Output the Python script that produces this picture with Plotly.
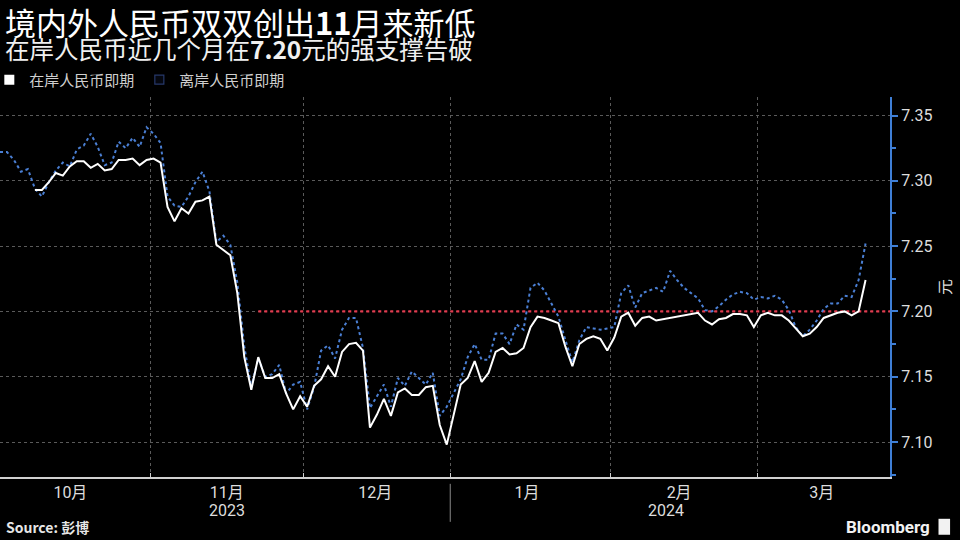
import pandas as pd
import plotly.graph_objects as go

# ---------------- data ----------------
# trading sessions shown on the chart (weekdays, New Year's Day had no quotes)
session_days = [d for d in pd.bdate_range("2023-10-02", "2024-03-22")
                if d != pd.Timestamp("2024-01-01")]
# each daily close is plotted mid-session so month gridlines fall between sessions
session_x = [d + pd.Timedelta(hours=12) for d in session_days]

onshore_cny = [
    None, None, None, None, None, 7.293, 7.293, 7.299, 7.306, 7.304,
    7.311, 7.315, 7.315, 7.310, 7.313, 7.308, 7.309, 7.316, 7.316, 7.317,
    7.312, 7.316, 7.317, 7.314, 7.280, 7.269, 7.279, 7.275, 7.284, 7.285,
    7.288, 7.251, 7.247, 7.243, 7.214, 7.165, 7.140, 7.165, 7.149, 7.149,
    7.152, 7.137, 7.125, 7.135, 7.127, 7.143, 7.148, 7.158, 7.150, 7.169,
    7.175, 7.176, 7.170, 7.111, 7.121, 7.133, 7.120, 7.138, 7.141, 7.136,
    7.136, 7.142, 7.143, 7.113, 7.098, 7.144, 7.149, 7.162, 7.146, 7.153,
    7.169, 7.172, 7.167, 7.168, 7.172, 7.188, 7.196, 7.195, 7.193, 7.191,
    7.173, 7.158, 7.175, 7.179, 7.181, 7.179, 7.170, 7.180, 7.196, 7.199,
    7.189, 7.195, 7.196, 7.193, None, None, None, None, None, 7.199,
    7.193, 7.190, 7.194, 7.195, 7.198, 7.198, 7.197, 7.188, 7.197, 7.199,
    7.197, 7.197, 7.193, 7.187, 7.181, 7.183, 7.188, 7.195, 7.197, 7.199,
    7.200, 7.197, 7.200, 7.224,
]

offshore_cnh = [
    7.322, 7.322, 7.316, 7.307, 7.309, 7.294, 7.288, 7.299, 7.308, 7.314,
    7.311, 7.324, 7.327, 7.336, 7.326, 7.312, 7.314, 7.330, 7.325, 7.333,
    7.326, 7.341, 7.336, 7.329, 7.288, 7.281, 7.280, 7.288, 7.299, 7.307,
    7.292, 7.253, 7.258, 7.251, 7.222, 7.173, 7.142, 7.164, 7.150, 7.152,
    7.159, 7.137, 7.144, 7.146, 7.125, 7.142, 7.170, 7.174, 7.164, 7.186,
    7.195, 7.195, 7.172, 7.126, 7.135, 7.144, 7.127, 7.149, 7.143, 7.154,
    7.149, 7.144, 7.153, 7.120, 7.127, 7.148, 7.165, 7.175, 7.163, 7.163,
    7.183, 7.183, 7.175, 7.190, 7.186, 7.218, 7.222, 7.216, 7.206, 7.196,
    7.178, 7.161, 7.178, 7.188, 7.187, 7.186, 7.187, 7.188, 7.214, 7.220,
    7.203, 7.214, 7.216, 7.218, 7.215, 7.231, 7.224, 7.218, 7.214, 7.210,
    7.201, 7.200, 7.204, 7.209, 7.213, 7.215, 7.214, 7.209, 7.211, 7.210,
    7.212, 7.209, 7.201, 7.188, 7.181, 7.186, 7.193, 7.202, 7.206, 7.206,
    7.212, 7.211, 7.224, 7.252,
]

support_level = 7.20
support_from = "2023-11-22 12:00"

x_range = ["2023-10-02 12:00", "2024-03-28 00:00"]
y_range = [7.0732, 7.3642]

# month boundaries (gridlines) and month labels centred on the visible part of each month
month_starts = ["2023-11-01", "2023-12-01", "2024-01-01", "2024-02-01", "2024-03-01"]
month_label_x = ["2023-10-16 14:00", "2023-11-16 00:00", "2023-12-15 06:00",
                 "2024-01-16 00:00", "2024-02-14 19:00", "2024-03-14 05:00"]
month_labels = ["10月", "11月", "12月", "1月", "2月", "3月"]
year_labels = ["2023", "2024"]
year_label_x = ["2023-11-16 00:00", "2024-02-12 22:00"]
year_divider_x = "2024-01-01"

title_text = "境内外人民币双双创出<b>11</b>月来新低"
subtitle_text = "在岸人民币近几个月在<b>7.20</b>元的强支撑告破"
name_on = "在岸人民币即期"
name_off = "离岸人民币即期"

# ---------------- styling ----------------
BG = "#000000"
WHITE = "#ffffff"
BLUE = "#4a7fd4"
RED = "#e23a4e"
AXIS_BLUE = "#3f7fd6"
GRID = "#5a5a5a"
TXT = "#dddddd"
FONT = "Roboto, 'Noto Sans CJK SC', sans-serif"
CJK = "'Noto Sans CJK SC', Roboto, sans-serif"

fig = go.Figure()

fig.add_trace(go.Scatter(
    x=[support_from, x_range[1]], y=[support_level, support_level],
    mode="lines", line=dict(color=RED, width=2.2, dash="dot"),
    showlegend=False, hoverinfo="skip"))

fig.add_trace(go.Scatter(
    x=session_x, y=offshore_cnh, mode="lines", name=name_off,
    line=dict(color=BLUE, width=2, dash="dot"), showlegend=False))

fig.add_trace(go.Scatter(
    x=session_x, y=onshore_cny, mode="lines", name=name_on,
    line=dict(color=WHITE, width=2), connectgaps=True, showlegend=False))

# legend entries (square swatches)
fig.add_trace(go.Scatter(
    x=[None], y=[None], mode="markers", name=name_on,
    marker=dict(symbol="square", size=10, color=WHITE)))
fig.add_trace(go.Scatter(
    x=[None], y=[None], mode="markers", name=name_off,
    marker=dict(symbol="square", size=9, color="#05070f",
                line=dict(color="#27396b", width=1.2))))

fig.update_layout(
    width=960, height=540,
    paper_bgcolor=BG, plot_bgcolor=BG,
    margin=dict(l=0, r=70, t=97, b=63, autoexpand=False),
    font=dict(family=FONT, color=TXT),
    legend=dict(
        orientation="h", x=-0.012, xanchor="left", y=1.045, yanchor="middle",
        font=dict(family=CJK, size=15, color="#cfcfcf"),
        bgcolor="rgba(0,0,0,0)", itemwidth=30, tracegroupgap=0,
    ),
    showlegend=True,
    hovermode=False,
)

fig.update_xaxes(
    type="date",
    range=x_range,
    rangebreaks=[dict(bounds=["sat", "mon"])],
    tickmode="array", tickvals=month_label_x, ticktext=month_labels,
    ticks="", showgrid=False,
    minor=dict(tickmode="array", tickvals=month_starts,
               showgrid=True, gridcolor=GRID, griddash="dot", gridwidth=1,
               ticks="inside", ticklen=4, tickcolor="#d0d0d0"),
    showline=True, linecolor="#d0d0d0", linewidth=1.5,
    tickfont=dict(family=FONT, size=16, color=TXT),
    zeroline=False, fixedrange=True,
)

fig.update_yaxes(
    side="right", range=y_range,
    dtick=0.05, tick0=7.10, tickformat=".2f",
    showgrid=True, gridcolor=GRID, griddash="dot", gridwidth=1,
    showline=True, linecolor=AXIS_BLUE, linewidth=2,
    ticks="outside", ticklen=6, tickwidth=2, tickcolor=AXIS_BLUE,
    minor=dict(dtick=0.025, tick0=7.10, ticks="outside", ticklen=4,
               tickcolor=AXIS_BLUE, tickwidth=1.5, showgrid=False),
    tickfont=dict(family=FONT, size=16, color=TXT),
    title=dict(text="元", font=dict(family=CJK, size=16, color=TXT), standoff=8),
    zeroline=False, fixedrange=True,
)

# title + subtitle
fig.add_annotation(x=0.003, xref="paper", y=1.198, yref="paper",
                   text=title_text, showarrow=False,
                   font=dict(family=CJK, size=31, color=WHITE),
                   xanchor="left", yanchor="middle")
fig.add_annotation(x=0.003, xref="paper", y=1.1265, yref="paper",
                   text=subtitle_text, showarrow=False,
                   font=dict(family=CJK, size=24.5, color="#f0f0f0"),
                   xanchor="left", yanchor="middle")

# year row under the month labels
for lbl, xv in zip(year_labels, year_label_x):
    fig.add_annotation(x=xv, xref="x", y=-0.087, yref="paper",
                       text=lbl, showarrow=False,
                       font=dict(family=FONT, size=16, color=TXT),
                       xanchor="center", yanchor="middle")
fig.add_shape(type="line", xref="x", yref="paper",
              x0=year_divider_x, x1=year_divider_x, y0=-0.018, y1=-0.118,
              line=dict(color="#8a8a8a", width=1))

# footer
fig.add_annotation(x=0.005, xref="paper", y=-0.131, yref="paper",
                   text="<b>Source: 彭博</b>", showarrow=False,
                   font=dict(family=CJK, size=14, color="#e6e6e6"),
                   xanchor="left", yanchor="middle")
fig.add_annotation(x=1.047, xref="paper", y=-0.131, yref="paper",
                   text="<b>Bloomberg</b>", showarrow=False,
                   font=dict(family="Roboto, sans-serif", size=17, color="#f2f2f2"),
                   xanchor="right", yanchor="middle")
fig.add_shape(type="rect", xref="paper", yref="paper",
              x0=1.0545, x1=1.0675, y0=-0.152, y1=-0.110,
              fillcolor="#f2f2f2", line=dict(width=0))

fig.write_html("out.html",
               config={"displayModeBar": False},
               post_script="document.body.style.margin='0';"
                           "document.body.style.background='#000';")
